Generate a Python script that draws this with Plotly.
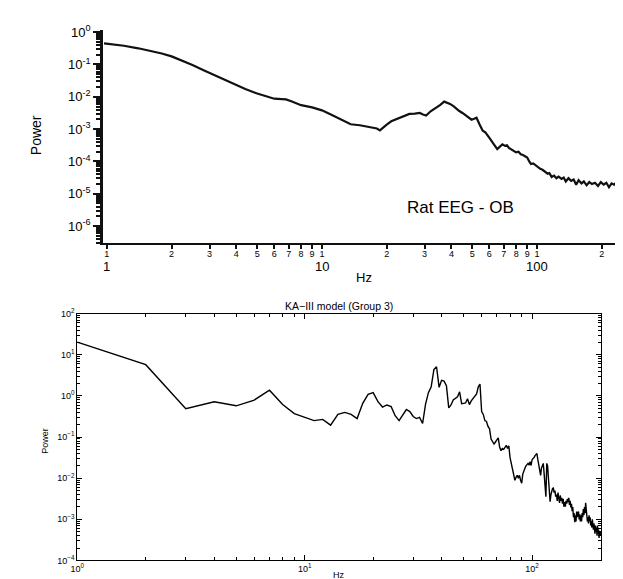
import math
import plotly.graph_objects as go

# ---------------- Data ----------------
# Top panel: Rat EEG - OB  (frequency in Hz, log10 of power)
rat_freq = [0.97, 1.0, 1.2, 1.4, 1.6, 1.8, 2.0, 2.2, 2.5, 2.8, 3.1, 3.5, 4.0, 4.4, 5.0,
            5.5, 6.0, 6.5, 6.8, 7.2, 8.0, 9.0, 10, 11, 12, 13.6, 15, 16.8, 18, 18.6,
            19.2, 20, 21, 22.5, 24, 25.5, 27, 28.5, 29.5, 30.5, 32, 34, 35.5, 37, 38,
            39.4, 41, 42, 43.5, 45, 46.5, 48, 49.6, 51, 52.3, 54, 55.9, 57.5, 58.9, 60.5,
            62.2, 64, 65.3, 67, 69, 71, 72.5, 74, 76, 78, 79.9, 82, 84, 86, 88,
            90, 92, 93.7, 96, 98.5, 101, 103.5, 106, 109, 112, 114, 117, 120, 123, 126,
            130, 133, 136, 140, 144, 148, 152, 156, 161, 165, 170, 175, 180, 186, 192,
            198, 204, 210, 216, 222, 228, 234, 240, 244]
rat_log_power = [-0.35, -0.36, -0.42, -0.50, -0.58, -0.66, -0.75, -0.86, -1.02, -1.17, -1.30, -1.48, -1.65, -1.76, -1.90,
                 -1.99, -2.06, -2.07, -2.08, -2.14, -2.26, -2.33, -2.42, -2.55, -2.68, -2.85, -2.88, -2.94, -2.98, -3.04,
                 -2.95, -2.86, -2.76, -2.68, -2.58, -2.53, -2.52, -2.50, -2.55, -2.58, -2.45, -2.34, -2.25, -2.15, -2.17,
                 -2.22, -2.30, -2.36, -2.44, -2.50, -2.58, -2.66, -2.71, -2.68, -2.65, -2.85, -3.05, -3.10, -3.18, -3.30,
                 -3.42, -3.52, -3.62, -3.55, -3.47, -3.52, -3.50, -3.58, -3.62, -3.66, -3.72, -3.70, -3.78, -3.80, -3.83,
                 -3.88, -4.00, -4.08, -4.06, -4.12, -4.18, -4.23, -4.26, -4.33, -4.38, -4.36, -4.48, -4.44, -4.52, -4.47,
                 -4.54, -4.50, -4.62, -4.52, -4.60, -4.56, -4.72, -4.58, -4.68, -4.62, -4.74, -4.64, -4.70, -4.66, -4.76,
                 -4.64, -4.72, -4.66, -4.80, -4.68, -4.72, -4.65, -4.78, -4.70]

# Bottom panel: KA-III model (Group 3), 1 Hz bins, log10 of power
ka_freq = list(range(1, 201))
ka_log_power = [
    1.31, 0.76, -0.31, -0.14, -0.24, -0.10, 0.14, -0.21, -0.43, -0.52,
    -0.60, -0.57, -0.71, -0.45, -0.40, -0.45, -0.55, -0.18, 0.04, 0.08,
    -0.14, -0.27, -0.22, -0.26, -0.48, -0.60, -0.45, -0.33, -0.38, -0.50,
    -0.55, -0.52, -0.67, -0.20, 0.08, 0.22, 0.64, 0.71, 0.21, 0.38,
    0.36, 0.25, -0.29, -0.22, -0.10, -0.05, -0.02, 0.10, -0.19, -0.18,
    -0.17, -0.07, -0.21, -0.12, -0.07, -0.02, 0.05, 0.22, 0.29, -0.38,
    -0.45, -0.60, -0.62, -0.74, -0.80, -1.05, -1.10, -1.17, -1.12, -1.05,
    -1.02, -1.25, -1.33, -1.28, -1.30, -1.25, -1.20, -1.28, -1.21, -1.50,
    -1.64, -1.80, -1.95, -2.05, -1.98, -1.93, -2.00, -1.93, -2.05, -2.12,
    -1.90, -1.80, -1.76, -1.70, -1.65, -1.64, -1.68, -1.60, -1.69, -1.55,
    -1.52, -1.50, -1.45, -1.42, -1.40, -1.55, -1.70, -1.85, -1.93, -1.75,
    -1.66, -1.64, -1.90, -2.20, -2.45, -1.64, -1.70, -2.00, -2.30, -2.57,
    -2.40, -2.30, -2.25, -2.24, -2.35, -2.30, -2.45, -2.40, -2.55, -2.35,
    -2.50, -2.60, -2.42, -2.55, -2.48, -2.62, -2.50, -2.69, -2.58, -2.69,
    -2.55, -2.62, -2.50, -2.58, -2.48, -2.65, -2.55, -2.71, -2.62, -2.80,
    -2.70, -2.95, -2.85, -3.07, -2.90, -3.05, -2.81, -2.95, -2.85, -2.81,
    -3.00, -2.88, -3.05, -2.90, -3.05, -2.85, -2.95, -2.75, -2.90, -2.70,
    -2.85, -2.60, -2.75, -2.90, -3.05, -2.95, -3.10, -2.90, -3.05, -2.95,
    -3.15, -3.05, -3.20, -3.00, -3.10, -3.25, -3.10, -3.20, -3.35, -3.15,
    -3.30, -3.20, -3.40, -3.15, -3.35, -3.25, -3.45, -3.30, -3.40, -3.30]

# Tick labels
top_x_tickvals = [1, 2, 3, 4, 5, 6, 7, 8, 9, 10, 20, 30, 40, 50, 60, 70, 80, 90, 100, 200]
top_x_ticktext = ["1", "2", "3", "4", "5", "6", "7", "8", "9",
                  "1", "2", "3", "4", "5", "6", "7", "8", "9", "1", "2"]
top_x_decades = [1, 10, 100]
top_x_decade_text = ["1", "10", "100"]
top_y_tickvals = [1, 1e-1, 1e-2, 1e-3, 1e-4, 1e-5, 1e-6]
top_y_ticktext = ["10<sup>0</sup>", "10<sup>-1</sup>", "10<sup>-2</sup>", "10<sup>-3</sup>",
                  "10<sup>-4</sup>", "10<sup>-5</sup>", "10<sup>-6</sup>"]
bot_x_tickvals = [1, 10, 100]
bot_x_ticktext = ["10<sup>0</sup>", "10<sup>1</sup>", "10<sup>2</sup>"]
bot_y_tickvals = [1e2, 1e1, 1, 1e-1, 1e-2, 1e-3, 1e-4]
bot_y_ticktext = ["10<sup>2</sup>", "10<sup>1</sup>", "10<sup>0</sup>", "10<sup>\u22121</sup>",
                  "10<sup>\u22122</sup>", "10<sup>\u22123</sup>", "10<sup>\u22124</sup>"]

rat_power = [10 ** v for v in rat_log_power]
ka_power = [10 ** v for v in ka_log_power]


def minor_vals(lo_exp, hi_exp):
    out = []
    for e in range(lo_exp, hi_exp):
        for k in range(2, 10):
            out.append(k * 10.0 ** e)
    return out


FONT = "Liberation Sans, Arial, Helvetica, sans-serif"
W, H = 623, 579

fig = go.Figure()
fig.add_trace(go.Scatter(x=rat_freq, y=rat_power, mode="lines",
                         line=dict(color="#111111", width=2.2),
                         xaxis="x", yaxis="y", hoverinfo="skip"))
fig.add_trace(go.Scatter(x=ka_freq, y=ka_power, mode="lines",
                         line=dict(color="black", width=1.4),
                         xaxis="x2", yaxis="y2", hoverinfo="skip"))

fig.update_layout(
    width=W, height=H,
    margin=dict(l=0, r=0, t=0, b=0),
    paper_bgcolor="white", plot_bgcolor="white",
    showlegend=False,
    font=dict(family=FONT, color="black"),
    xaxis=dict(type="log", domain=[89 / W, 615 / W], anchor="y",
               range=[-0.018, 2.40], showline=True, linewidth=2, linecolor="#111111",
               ticks="outside", ticklen=4, tickwidth=1.5, tickcolor="#111111",
               tickmode="array", tickvals=top_x_tickvals, ticktext=top_x_ticktext,
               ticklabelstandoff=-3,
               tickfont=dict(size=9, family=FONT), showgrid=False, zeroline=False),
    yaxis=dict(type="log", domain=[1 - 233 / H, 1 - 15 / H], anchor="x",
               range=[-6.53, 0.076], showline=True, linewidth=2.5, linecolor="#111111",
               ticks="outside", ticklen=7, tickwidth=2, tickcolor="#111111",
               tickmode="array", tickvals=top_y_tickvals, ticktext=top_y_ticktext,
               tickfont=dict(size=13, family=FONT), showgrid=False, zeroline=False,
               minor=dict(tickmode="array", tickvals=minor_vals(-7, 1), ticks="outside",
                          ticklen=4, tickwidth=1.5, tickcolor="#111111", showgrid=False)),
    xaxis2=dict(type="log", domain=[63 / W, 593 / W], anchor="y2",
                range=[0, 2.3045], showline=True, linewidth=1, linecolor="black",
                mirror="allticks", ticks="inside", ticklen=5, tickwidth=1, tickcolor="black",
                tickmode="array", tickvals=bot_x_tickvals, ticktext=bot_x_ticktext,
                tickfont=dict(size=9, family=FONT), showgrid=False, zeroline=False,
                minor=dict(tickmode="array", tickvals=minor_vals(0, 2), ticks="inside",
                           ticklen=3, tickwidth=1, tickcolor="black", showgrid=False)),
    yaxis2=dict(type="log", domain=[1 - 557 / H, 1 - 305 / H], anchor="x2",
                range=[-4, 2], showline=True, linewidth=1, linecolor="black",
                mirror="allticks", ticks="inside", ticklen=5, tickwidth=1, tickcolor="black",
                tickmode="array", tickvals=bot_y_tickvals, ticktext=bot_y_ticktext,
                tickfont=dict(size=9, family=FONT), showgrid=False, zeroline=False,
                minor=dict(tickmode="array", tickvals=minor_vals(-4, 2), ticks="inside",
                           ticklen=3, tickwidth=1, tickcolor="black", showgrid=False)),
)

annotations = []
# decade labels under the top x axis (second row, as in the original scan)
for v, t in zip(top_x_decades, top_x_decade_text):
    annotations.append(dict(x=math.log10(v), y=1 - 247 / H, xref="x", yref="paper",
                            text=t, showarrow=False, xanchor="center", yanchor="top",
                            font=dict(size=13, family=FONT)))
annotations += [
    dict(x=22 / W, y=1 - 123 / H, xref="paper", yref="paper", text="Power", textangle=-90,
         showarrow=False, xanchor="center", yanchor="middle", font=dict(size=14, family=FONT)),
    dict(x=353 / W, y=1 - 268 / H, xref="paper", yref="paper", text="Hz",
         showarrow=False, xanchor="center", yanchor="middle", font=dict(size=13, family=FONT)),
    dict(x=451 / W, y=1 - 197 / H, xref="paper", yref="paper", text="Rat EEG - OB",
         showarrow=False, xanchor="center", yanchor="middle", font=dict(size=17, family=FONT)),
    dict(x=328 / W, y=1 - 297 / H, xref="paper", yref="paper", text="KA\u2212III model (Group 3)",
         showarrow=False, xanchor="center", yanchor="middle", font=dict(size=10.5, family=FONT)),
    dict(x=30 / W, y=1 - 435 / H, xref="paper", yref="paper", text="Power", textangle=-90,
         showarrow=False, xanchor="center", yanchor="middle", font=dict(size=9, family=FONT)),
    dict(x=328 / W, y=0, xref="paper", yref="paper", text="Hz",
         showarrow=False, xanchor="center", yanchor="bottom", font=dict(size=9, family=FONT)),
]
fig.update_layout(annotations=annotations)

fig.write_html("out.html")
